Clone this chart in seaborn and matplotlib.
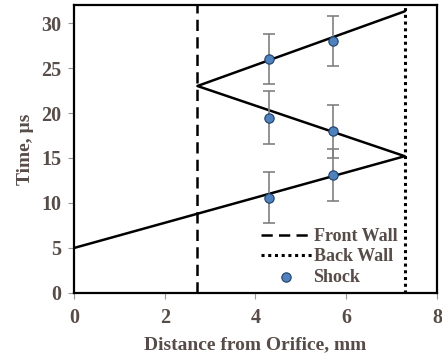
import matplotlib
matplotlib.use("Agg")
import matplotlib.pyplot as plt
import seaborn as sns
import pandas as pd

# Reflected wave path (distance in mm, time in µs)
wave_x = [0.0, 7.29, 2.72, 7.29]
wave_t = [5.0, 15.2, 23.0, 31.3]

# Wall positions
front_wall_x = 2.72
back_wall_x = 7.29

# Measured shock positions with uncertainty
shock_x = [4.3, 4.3, 4.3, 5.7, 5.7, 5.7]
shock_t = [10.6, 19.5, 26.0, 13.1, 17.95, 28.0]
shock_err = [2.8, 2.9, 2.8, 2.9, 2.9, 2.8]

x_ticks = [0, 2, 4, 6, 8]
y_ticks = [0, 5, 10, 15, 20, 25, 30]

text_color = "#574c48"

sns.set_style("white")
plt.rcParams["font.family"] = ["Liberation Serif", "DejaVu Serif"]
plt.rcParams["font.weight"] = "bold"

fig = plt.figure(figsize=(4.42, 3.58), dpi=100)
ax = fig.add_axes([0.1674, 0.1816, 0.8213, 0.8044])

wave = pd.DataFrame({"x": wave_x, "t": wave_t})
sns.lineplot(data=wave, x="x", y="t", sort=False, estimator=None,
             color="black", linewidth=1.8, ax=ax, zorder=3)

ax.axvline(front_wall_x, color="black", linestyle=(0, (4.5, 2.5)),
           linewidth=1.8, label="Front Wall", zorder=2)
ax.axvline(back_wall_x, color="black", linestyle=(0, (1, 1.2)),
           linewidth=2.2, label="Back Wall", zorder=2)

ax.errorbar(shock_x, shock_t, yerr=shock_err, fmt="none",
            ecolor="#808080", elinewidth=1.2, capsize=4, capthick=1.2,
            zorder=4)
shock = pd.DataFrame({"x": shock_x, "t": shock_t})
sns.scatterplot(data=shock, x="x", y="t", color="#4f81bd",
                edgecolor="#1f3f66", linewidth=0.8, s=45, ax=ax,
                label="Shock", zorder=5)

ax.set_xlim(0, 8)
ax.set_ylim(0, 32)
ax.set_xticks(x_ticks)
ax.set_yticks(y_ticks)
ax.set_xlabel("Distance from Orifice, mm", fontsize=14,
              fontweight="bold", color=text_color, labelpad=6)
ax.set_ylabel("Time, µs", fontsize=14, fontweight="bold",
              color=text_color, labelpad=5)
ax.tick_params(axis="both", labelsize=14.5, labelcolor=text_color,
               direction="out", length=4, width=0.8, color="#999999",
               bottom=True, left=True)
ax.tick_params(axis="x", pad=7)
ax.tick_params(axis="y", pad=5)

for s in ax.spines.values():
    s.set_color("black")
    s.set_linewidth(1.6)

leg = ax.legend(loc="lower right", bbox_to_anchor=(0.925, -0.02),
                frameon=False, fontsize=13, handlelength=2.8,
                handletextpad=0.1, labelspacing=0.2, borderaxespad=0.3)
for t in leg.get_texts():
    t.set_color(text_color)
    t.set_fontweight("bold")

fig.savefig("out.png", dpi=100)
